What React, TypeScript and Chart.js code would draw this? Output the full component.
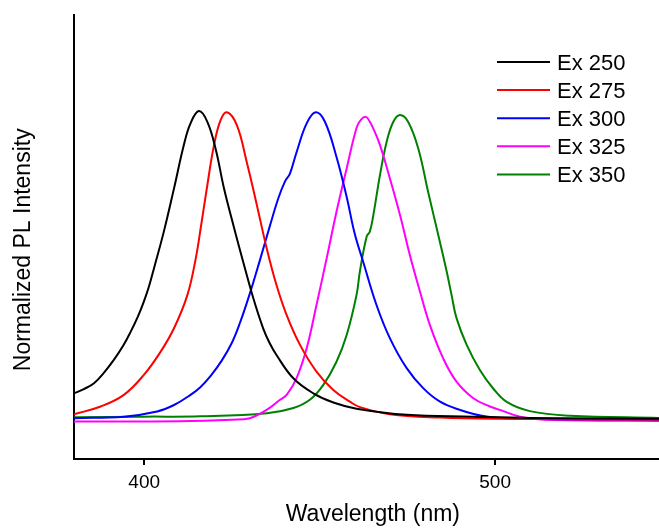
import React, { useEffect, useRef } from "react";
import { Chart, registerables } from "chart.js";

Chart.register(...registerables);

// ---- data ----
const wlEx250 = [380, 382.8, 385.7, 388.5, 391.4, 394, 396.2, 398.2, 399.9, 401.4, 402.8, 405.6, 408.5, 411.3, 413.2, 415.6, 418, 420.4, 422.7, 425.6, 428.2, 431.1, 433.9, 435.7, 437.7, 442.5, 448.2, 453.9, 460.5, 474.8, 493.7, 510, 546.7];
const plEx250 = [0.08, 0.094, 0.113, 0.147, 0.19, 0.235, 0.282, 0.33, 0.379, 0.43, 0.488, 0.607, 0.748, 0.889, 0.96, 1.0, 0.965, 0.875, 0.75, 0.62, 0.509, 0.39, 0.292, 0.245, 0.205, 0.129, 0.08, 0.05, 0.03, 0.01, 0.004, 0.0, -0.003];

const wlEx275 = [380, 387.6, 394.2, 399.9, 404.7, 408.5, 412.3, 414.7, 416.1, 418, 419.9, 421.8, 423.6, 426.4, 429.2, 432.1, 434.9, 437.7, 440.6, 444.4, 449.1, 453.9, 458.6, 461.5, 470, 484.3, 501.4, 546.7];
const plEx275 = [0.012, 0.037, 0.075, 0.14, 0.216, 0.292, 0.4, 0.52, 0.618, 0.759, 0.889, 0.971, 0.996, 0.954, 0.835, 0.694, 0.553, 0.433, 0.335, 0.238, 0.151, 0.091, 0.053, 0.035, 0.012, 0.001, -0.003, -0.005];

const wlEx300 = [380, 394.2, 403.7, 408.5, 413.2, 416, 419, 422, 425, 427.3, 430.1, 433, 435.8, 438.2, 440.1, 441.5, 443.4, 446.3, 448.9, 451.5, 454.8, 457.7, 460, 462.4, 466.2, 470, 474.8, 479.5, 484.3, 490, 496.6, 505, 546.7];
const plEx300 = [-0.001, 0.004, 0.021, 0.042, 0.075, 0.1, 0.138, 0.185, 0.245, 0.31, 0.405, 0.515, 0.625, 0.715, 0.77, 0.795, 0.865, 0.96, 0.996, 0.965, 0.85, 0.72, 0.6, 0.509, 0.368, 0.26, 0.162, 0.097, 0.053, 0.026, 0.006, -0.002, -0.005];

const wlEx325 = [380, 410, 425, 430.1, 434.9, 438.7, 440.6, 443.4, 446.3, 449.1, 452, 454.8, 457.7, 460.5, 461.8, 463.2, 464.3, 465.3, 467.2, 470, 472.9, 475.7, 478.6, 481.4, 485.2, 489, 493.8, 498.5, 501.4, 507.1, 516.5, 546.7];
const plEx325 = [-0.012, -0.011, -0.006, -0.001, 0.026, 0.059, 0.075, 0.129, 0.227, 0.368, 0.52, 0.672, 0.813, 0.945, 0.972, 0.981, 0.965, 0.943, 0.889, 0.781, 0.661, 0.531, 0.411, 0.303, 0.194, 0.118, 0.064, 0.037, 0.026, 0.004, -0.007, -0.01];

const wlEx350 = [380, 400, 416, 435, 442.5, 447.2, 451, 454.8, 457.7, 460.5, 461.5, 463.4, 464.3, 465.3, 467.2, 469.1, 471, 472.9, 475.2, 478.1, 480.9, 483.8, 486.2, 487.6, 489, 491.9, 495.7, 499.5, 503.3, 509.9, 521.3, 546.7];
const plEx350 = [0.002, 0.004, 0.005, 0.015, 0.032, 0.059, 0.107, 0.183, 0.27, 0.4, 0.48, 0.591, 0.607, 0.661, 0.792, 0.9, 0.965, 0.987, 0.965, 0.878, 0.737, 0.596, 0.477, 0.4, 0.325, 0.238, 0.155, 0.095, 0.052, 0.022, 0.007, 0.0];

const seriesLabels = ["Ex 250", "Ex 275", "Ex 300", "Ex 325", "Ex 350"];
const seriesColors = ["#000000", "#ff0000", "#0000ff", "#ff00ff", "#008000"];
const xTickValues = [400, 500];
const xTitle = "Wavelength (nm)";
const yTitle = "Normalized PL Intensity";

const FONT = "'Liberation Sans', Arial, Helvetica, sans-serif";

const insideLegend = {
  id: "insideLegend",
  afterDraw(chart: any) {
    const { ctx, chartArea } = chart;
    ctx.save();
    ctx.font = `22px ${FONT}`;
    ctx.textAlign = "left";
    ctx.textBaseline = "alphabetic";
    chart.data.datasets.forEach((ds: any, i: number) => {
      const y = chartArea.top + 47 + i * 28.1;
      const x0 = chartArea.right - 162;
      ctx.strokeStyle = ds.borderColor;
      ctx.lineWidth = 2;
      ctx.beginPath();
      ctx.moveTo(x0, y);
      ctx.lineTo(x0 + 53, y);
      ctx.stroke();
      ctx.fillStyle = "#000";
      ctx.fillText(ds.label, x0 + 60, y + 8);
    });
    ctx.restore();
  },
};

export default function App() {
  const ref = useRef<HTMLCanvasElement>(null);

  useEffect(() => {
    const wls = [wlEx250, wlEx275, wlEx300, wlEx325, wlEx350];
    const pls = [plEx250, plEx275, plEx300, plEx325, plEx350];
    const datasets = seriesLabels.map((label, k) => ({
      label,
      data: wls[k].map((x, i) => ({ x, y: pls[k][i] })),
      borderColor: seriesColors[k],
      backgroundColor: seriesColors[k],
      borderWidth: 2,
      pointRadius: 0,
      fill: false,
      tension: 0.4,
    }));

    const chart = new Chart(ref.current!, {
      type: "line",
      data: { datasets },
      plugins: [insideLegend],
      options: {
        animation: false,
        responsive: false,
        maintainAspectRatio: false,
        layout: { padding: { top: 15, right: 0, bottom: 0, left: 0 } },
        plugins: { legend: { display: false }, tooltip: { enabled: false } },
        scales: {
          x: {
            type: "linear",
            min: 380,
            max: 546.7,
            afterBuildTicks: (s: any) => {
              s.ticks = xTickValues.map((v) => ({ value: v }));
            },
            afterFit: (s: any) => {
              s.height = 69;
            },
            grid: {
              display: true,
              drawOnChartArea: false,
              drawTicks: true,
              tickLength: 6,
              color: "#000",
              lineWidth: 2,
            },
            border: { display: true, color: "#000", width: 2 },
            ticks: {
              color: "#000",
              font: { family: FONT, size: 19 },
              padding: 6,
              maxRotation: 0,
              callback: (v: any) => String(v),
            },
            title: {
              display: true,
              text: "  " + xTitle,
              color: "#000",
              font: { family: FONT, size: 23 },
              padding: { top: 0, bottom: 0 },
            },
          },
          y: {
            type: "linear",
            min: -0.134,
            max: 1.313,
            afterFit: (s: any) => {
              s.width = 74;
            },
            ticks: { display: false },
            grid: { display: false },
            border: { display: true, color: "#000", width: 2 },
            title: {
              display: true,
              text: yTitle + "    ",
              color: "#000",
              font: { family: FONT, size: 23 },
              padding: { top: 10, bottom: 0 },
            },
          },
        },
      },
    });
    return () => chart.destroy();
  }, []);

  return (
    <div style={{ position: "absolute", left: 0, top: 0, width: 659, height: 528, background: "#fff" }}>
      <canvas ref={ref} width={659} height={528} style={{ display: "block" }} />
    </div>
  );
}
